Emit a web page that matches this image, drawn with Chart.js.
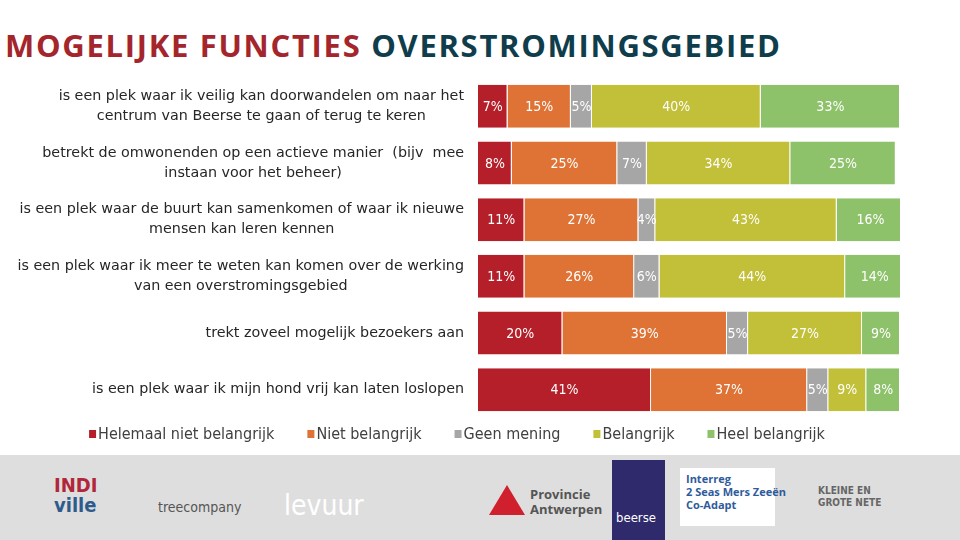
<!DOCTYPE html>
<html>
<head>
<meta charset="utf-8">
<script src="https://cdn.jsdelivr.net/npm/chart.js@4"></script>
<style>
  body { margin: 0; width: 960px; height: 540px; background: #fff; position: relative; overflow: hidden; font-family: "DejaVu Sans", sans-serif; }
  #title { position: absolute; left: 5px; top: 24px; font-family: "Open Sans", sans-serif; font-weight: 700; font-size: 31px; letter-spacing: 1.7px; white-space: nowrap; }
  #title .r { color: #A4262C; }
  #title .b { color: #0F3D4C; }
  #footer { position: absolute; left: 0; top: 455px; width: 960px; height: 85px; background: #DEDEDE; }
  #footer div { position: absolute; white-space: nowrap; }
  #wrap { position: absolute; left: 0; top: 70px; width: 900px; height: 400px; }
</style>
</head>
<body>
<div id="title"><span class="r">MOGELIJKE FUNCTIES</span> <span class="b">OVERSTROMINGSGEBIED</span></div>
<div id="footer">
  <div style="left:54px;top:20px;font:bold 20px 'DejaVu Sans Condensed';line-height:20px;color:#B0263A">INDI<br><span style="color:#2F5B8C">ville</span></div>
  <div style="left:158px;top:44px;font:14px 'DejaVu Sans Condensed';color:#555">treecompany</div>
  <div style="left:284px;top:34px;font:28px 'DejaVu Sans Condensed';color:#fff">levuur</div>
  <div style="left:489px;top:30px;width:0;height:0;border-left:18px solid transparent;border-right:18px solid transparent;border-bottom:30px solid #D0202E"></div>
  <div style="left:530px;top:32px;font:bold 13px 'Open Sans';line-height:15px;color:#555">Provincie<br>Antwerpen</div>
  <div style="left:612px;top:5px;width:53px;height:80px;background:#2E2A6B;color:#fff;font:13px 'DejaVu Sans Condensed'"><span style="position:absolute;left:4px;top:50px">beerse</span></div>
  <div style="left:680px;top:13px;width:95px;height:58px;background:#fff;font:bold 11px 'Open Sans';color:#2F5B9C;line-height:13px;padding:4px 0 0 6px;box-sizing:border-box">Interreg<br>2 Seas Mers Zeeën<br>Co-Adapt</div>
  <div style="left:818px;top:30px;font:bold 10px 'DejaVu Sans Condensed';color:#666;line-height:12px">KLEINE EN<br>GROTE NETE</div>
</div>
<div id="wrap"><canvas id="c"></canvas></div>
<script>
const categories = [
  ["is een plek waar ik veilig kan doorwandelen om naar het", "centrum van Beerse te gaan of terug te keren"],
  ["betrekt de omwonenden op een actieve manier  (bijv  mee", "instaan voor het beheer)"],
  ["is een plek waar de buurt kan samenkomen of waar ik nieuwe", "mensen kan leren kennen"],
  ["is een plek waar ik meer te weten kan komen over de werking", "van een overstromingsgebied"],
  ["trekt zoveel mogelijk bezoekers aan"],
  ["is een plek waar ik mijn hond vrij kan laten loslopen"]
];
const seriesNames = ["Helemaal niet belangrijk", "Niet belangrijk", "Geen mening", "Belangrijk", "Heel belangrijk"];
const helemaalNiet = [7, 8, 11, 11, 20, 41];
const nietBelangrijk = [15, 25, 27, 26, 39, 37];
const geenMening = [5, 7, 4, 6, 5, 5];
const belangrijk = [40, 34, 43, 44, 27, 9];
const heelBelangrijk = [33, 25, 16, 14, 9, 8];
const colors = ["#B41F29", "#DE7335", "#A6A6A6", "#C2BF38", "#8DC26A"];

const values = [helemaalNiet, nietBelangrijk, geenMening, belangrijk, heelBelangrijk];

// labels op de balken, categorielabels links en legende onderaan
const labelPlugin = {
  id: 'labels',
  afterDatasetsDraw(chart) {
    const ctx = chart.ctx;
    ctx.save();
    ctx.fillStyle = '#fff';
    ctx.font = '14px "DejaVu Sans Condensed"';
    ctx.textAlign = 'center';
    ctx.textBaseline = 'middle';
    chart.data.datasets.forEach((ds, i) => {
      chart.getDatasetMeta(i).data.forEach((bar, j) => {
        ctx.fillText(ds.data[j] + '%', (bar.x + bar.base) / 2, bar.y + 1);
      });
    });

    // categorieën
    const yScale = chart.scales.y;
    const right = chart.chartArea.left - 14;
    ctx.fillStyle = '#262626';
    ctx.font = '14.3px "DejaVu Sans"';
    categories.forEach((lines, j) => {
      const yc = yScale.getPixelForValue(j);
      const widest = Math.max(...lines.map(l => ctx.measureText(l).width));
      const cx = right - widest / 2;
      lines.forEach((l, k) => {
        ctx.fillText(l, cx, yc + (k - (lines.length - 1) / 2) * 20);
      });
    });

    // legende
    ctx.font = '16px "DejaVu Sans Condensed"';
    ctx.textAlign = 'left';
    const gap = 33;
    const widths = chart.data.datasets.map(ds => 9 + ctx.measureText(ds.label).width);
    const total = widths.reduce((a, b) => a + b, 0) + gap * (widths.length - 1);
    let x = 457 - total / 2;
    const ly = chart.chartArea.bottom + 17;
    chart.data.datasets.forEach((ds, i) => {
      ctx.fillStyle = ds.backgroundColor;
      ctx.fillRect(x, ly - 5, 7, 8);
      ctx.fillStyle = '#404040';
      ctx.fillText(ds.label, x + 9, ly);
      x += widths[i] + gap;
    });
    ctx.restore();
  }
};

new Chart(document.getElementById('c'), {
  type: 'bar',
  data: {
    labels: categories.map(c => c.join(' ')),
    datasets: values.map((v, i) => ({
      label: seriesNames[i],
      data: v,
      backgroundColor: colors[i],
      borderColor: '#fff',
      borderWidth: { left: 0, right: 1, top: 0, bottom: 0 },
      borderSkipped: false,
      categoryPercentage: 1,
      barPercentage: 0.76
    }))
  },
  options: {
    indexAxis: 'y',
    responsive: true,
    maintainAspectRatio: false,
    animation: false,
    layout: { padding: { left: 478, right: 0, top: 8, bottom: 52 } },
    scales: {
      x: { stacked: true, min: 0, max: 100, display: false },
      y: { stacked: true, display: false }
    },
    plugins: {
      tooltip: { enabled: false },
      legend: { display: false }
    }
  },
  plugins: [labelPlugin]
});
</script>
</body>
</html>
